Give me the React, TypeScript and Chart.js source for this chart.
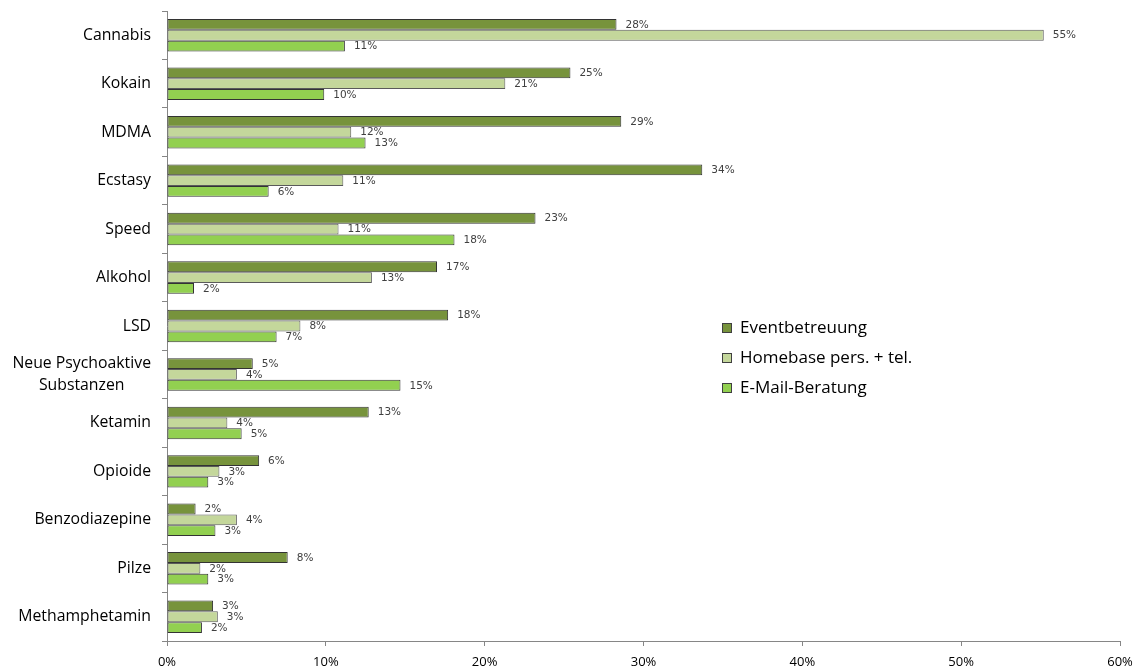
import React, { useEffect, useRef } from "react";
import { Chart, registerables } from "chart.js";

Chart.register(...registerables);

const categories: (string | string[])[] = [
  "Cannabis",
  "Kokain",
  "MDMA",
  "Ecstasy",
  "Speed",
  "Alkohol",
  "LSD",
  ["Neue Psychoaktive", "Substanzen"],
  "Ketamin",
  "Opioide",
  "Benzodiazepine",
  "Pilze",
  "Methamphetamin",
];

const eventbetreuung = [28.3, 25.4, 28.6, 33.7, 23.2, 17.0, 17.7, 5.4, 12.7, 5.8, 1.8, 7.6, 2.9];
const homebase = [55.2, 21.3, 11.6, 11.1, 10.8, 12.9, 8.4, 4.4, 3.8, 3.3, 4.4, 2.1, 3.2];
const emailBeratung = [11.2, 9.9, 12.5, 6.4, 18.1, 1.7, 6.9, 14.7, 4.7, 2.6, 3.05, 2.6, 2.2];

const seriesNames = ["Eventbetreuung", "Homebase pers. + tel.", "E-Mail-Beratung"];
const seriesColors = ["#77933C", "#C4D79B", "#92D050"];
const xTicks = [0, 10, 20, 30, 40, 50, 60];

const valueLabels = {
  id: "valueLabels",
  afterDatasetsDraw(chart: any) {
    const ctx = chart.ctx;
    ctx.save();
    ctx.font = "10.5px 'DejaVu Sans'";
    ctx.fillStyle = "#404040";
    ctx.textAlign = "left";
    ctx.textBaseline = "middle";
    chart.data.datasets.forEach((ds: any, i: number) => {
      const meta = chart.getDatasetMeta(i);
      meta.data.forEach((bar: any, j: number) => {
        const v = ds.data[j];
        ctx.fillText(Math.round(v) + "%", bar.x + 9, bar.y + 0.5);
      });
    });
    ctx.restore();
  },
};

const yLabels = {
  id: "yLabels",
  afterDraw(chart: any) {
    const ctx = chart.ctx;
    const scale = chart.scales.y;
    ctx.save();
    ctx.font = "15.8px 'Open Sans'";
    ctx.fillStyle = "#000000";
    ctx.textBaseline = "middle";
    ctx.textAlign = "center";
    const labels = chart.data.labels as (string | string[])[];
    labels.forEach((label, i) => {
      const y = scale.getPixelForTick(i);
      const lines = Array.isArray(label) ? label : [label];
      const widths = lines.map((l) => ctx.measureText(l).width);
      const maxW = Math.max(...widths);
      const lh = 22;
      lines.forEach((l, k) => {
        const ly = y + (k - (lines.length - 1) / 2) * lh;
        ctx.fillText(l, 151 - maxW / 2, ly);
      });
    });
    ctx.restore();
  },
};

const customLegend = {
  id: "customLegend",
  afterDraw(chart: any) {
    const ctx = chart.ctx;
    ctx.save();
    const x0 = 722;
    const y0 = 328;
    const gap = 30;
    ctx.font = "17px 'Open Sans'";
    ctx.textBaseline = "middle";
    ctx.textAlign = "left";
    chart.data.datasets.forEach((ds: any, i: number) => {
      const y = y0 + i * gap;
      ctx.fillStyle = ds.backgroundColor;
      ctx.fillRect(x0, y - 5, 9, 9);
      ctx.strokeStyle = "#404040";
      ctx.lineWidth = 1;
      ctx.strokeRect(x0 + 0.5, y - 4.5, 9, 9);
      ctx.fillStyle = "#000000";
      ctx.fillText(ds.label, x0 + 18, y);
    });
    ctx.restore();
  },
};

export default function App() {
  const ref = useRef<HTMLCanvasElement | null>(null);

  useEffect(() => {
    document.body.style.margin = "0";
    if (!ref.current) return;
    const data = [eventbetreuung, homebase, emailBeratung];
    const chart = new Chart(ref.current, {
      type: "bar",
      data: {
        labels: categories,
        datasets: data.map((d, i) => ({
          label: seriesNames[i],
          data: d,
          backgroundColor: seriesColors[i],
          borderColor: i === 1 ? "#5a5a5a" : "#333333",
          borderWidth: 1,
          borderSkipped: false,
          categoryPercentage: 0.67,
          barPercentage: 1,
        })),
      },
      options: {
        indexAxis: "y",
        responsive: false,
        animation: false,
        layout: { padding: { left: 0, right: 22, top: 11, bottom: 0 } },
        plugins: {
          legend: { display: false },
          tooltip: { enabled: false },
        },
        scales: {
          x: {
            min: 0,
            max: 60,
            afterBuildTicks: (scale: any) => {
              scale.ticks = xTicks.map((v) => ({ value: v }));
            },
            afterFit: (scale: any) => {
              scale.height = 29;
            },
            grid: {
              display: true,
              drawOnChartArea: false,
              drawTicks: true,
              tickLength: 5,
              color: "#868686",
            },
            border: { display: true, color: "#868686" },
            ticks: {
              padding: 8,
              color: "#000000",
              font: { family: "Open Sans", size: 13 },
              callback: (v: any) => v + "%",
            },
          },
          y: {
            afterFit: (scale: any) => {
              scale.width = 167;
              scale.paddingTop = 0;
              scale.paddingBottom = 0;
            },
            grid: {
              display: true,
              offset: true,
              drawOnChartArea: false,
              drawTicks: true,
              tickLength: 5,
              color: "#868686",
            },
            border: { display: true, color: "#868686" },
            ticks: {
              display: false,
            },
          },
        },
      },
      plugins: [valueLabels, yLabels, customLegend],
    });
    return () => chart.destroy();
  }, []);

  return (
    <div style={{ width: 1142, height: 670 }}>
      <canvas ref={ref} width={1142} height={670} style={{ display: "block" }} />
    </div>
  );
}
